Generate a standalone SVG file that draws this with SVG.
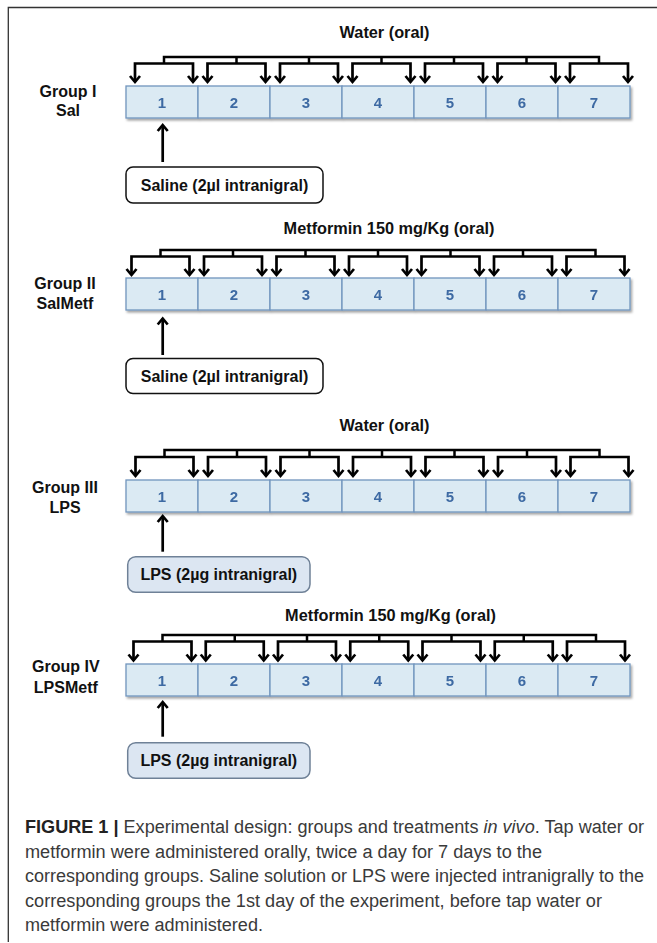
<svg xmlns="http://www.w3.org/2000/svg" width="657" height="943" viewBox="0 0 657 943">
<style>
.lbl{font-family:"Liberation Sans",Arial,sans-serif;font-weight:bold;font-size:16px;fill:#111;text-anchor:middle}
.ttl{font-family:"Liberation Sans",Arial,sans-serif;font-weight:bold;font-size:16.3px;fill:#111;text-anchor:middle}
.cell{fill:#dbeaf3;stroke:#7195bd;stroke-width:1.3}
.num{font-family:"Liberation Sans",Arial,sans-serif;font-weight:bold;font-size:15px;fill:#3e6aa3;text-anchor:middle}
.sal{fill:#fff;stroke:#111;stroke-width:1.5}
.lps{fill:#dce6f2;stroke:#6f8197;stroke-width:1.5}
.btx{font-family:"Liberation Sans",Arial,sans-serif;font-weight:bold;font-size:16px;fill:#111;text-anchor:middle}
.brk{fill:none;stroke:#000;stroke-width:2.7;marker-start:url(#ah);marker-end:url(#ah)}
.bar{fill:none;stroke:#000;stroke-width:2.5}
.up{fill:none;stroke:#000;stroke-width:2.7;marker-end:url(#ah)}
.cap{font-family:"Liberation Sans",Arial,sans-serif;font-size:18px;fill:#3a3a3a}
.frame{stroke:#333;stroke-width:1.3;fill:none}
</style>
<defs>
<marker id="ah" markerUnits="userSpaceOnUse" markerWidth="16" markerHeight="16" viewBox="-8 -8 16 16" refX="0" refY="0" orient="auto-start-reverse" overflow="visible">
<path d="M-6,-5 L0,0 L-6,5" fill="none" stroke="#000" stroke-width="2.7"/>
</marker>
<filter id="sh" x="-5%" y="-30%" width="110%" height="170%">
<feDropShadow dx="1.5" dy="2" stdDeviation="1.2" flood-color="#000" flood-opacity="0.35"/>
</filter>
</defs>

<path class="frame" d="M8.3,942 V7.5 H657"/>

<!-- Group I -->
<g id="group1-label"><text class="lbl" x="68" y="96.7">Group I</text><text class="lbl" x="68" y="116">Sal</text></g>
<g id="group1-title"><text class="ttl" x="384.5" y="38">Water (oral)</text></g>
<g id="group1-days" filter="url(#sh)">
<g id="g1d1"><rect class="cell" x="126" y="86" width="72" height="32"/><text class="num" x="162" y="107.5">1</text></g>
<g id="g1d2"><rect class="cell" x="198" y="86" width="72" height="32"/><text class="num" x="234" y="107.5">2</text></g>
<g id="g1d3"><rect class="cell" x="270" y="86" width="72" height="32"/><text class="num" x="306" y="107.5">3</text></g>
<g id="g1d4"><rect class="cell" x="342" y="86" width="72" height="32"/><text class="num" x="378" y="107.5">4</text></g>
<g id="g1d5"><rect class="cell" x="414" y="86" width="72" height="32"/><text class="num" x="450" y="107.5">5</text></g>
<g id="g1d6"><rect class="cell" x="486" y="86" width="72" height="32"/><text class="num" x="522" y="107.5">6</text></g>
<g id="g1d7"><rect class="cell" x="558" y="86" width="72" height="32"/><text class="num" x="594" y="107.5">7</text></g>
</g>
<g id="group1-injection"><rect class="sal" x="126" y="167" width="197" height="36" rx="7"/><text class="btx" x="224.5" y="190.5">Saline (2µl intranigral)</text></g>

<!-- Group II -->
<g id="group2-label"><text class="lbl" x="65" y="289.3">Group II</text><text class="lbl" x="65" y="309.3">SalMetf</text></g>
<g id="group2-title"><text class="ttl" x="389" y="234">Metformin 150 mg/Kg (oral)</text></g>
<g id="group2-days" filter="url(#sh)">
<g id="g2d1"><rect class="cell" x="126" y="278" width="72" height="32"/><text class="num" x="162" y="299.5">1</text></g>
<g id="g2d2"><rect class="cell" x="198" y="278" width="72" height="32"/><text class="num" x="234" y="299.5">2</text></g>
<g id="g2d3"><rect class="cell" x="270" y="278" width="72" height="32"/><text class="num" x="306" y="299.5">3</text></g>
<g id="g2d4"><rect class="cell" x="342" y="278" width="72" height="32"/><text class="num" x="378" y="299.5">4</text></g>
<g id="g2d5"><rect class="cell" x="414" y="278" width="72" height="32"/><text class="num" x="450" y="299.5">5</text></g>
<g id="g2d6"><rect class="cell" x="486" y="278" width="72" height="32"/><text class="num" x="522" y="299.5">6</text></g>
<g id="g2d7"><rect class="cell" x="558" y="278" width="72" height="32"/><text class="num" x="594" y="299.5">7</text></g>
</g>
<g id="group2-injection"><rect class="sal" x="126" y="358.5" width="197" height="35" rx="7"/><text class="btx" x="224.5" y="382">Saline (2µl intranigral)</text></g>

<!-- Group III -->
<g id="group3-label"><text class="lbl" x="65" y="493.3">Group III</text><text class="lbl" x="65" y="512.7">LPS</text></g>
<g id="group3-title"><text class="ttl" x="384.5" y="431">Water (oral)</text></g>
<g id="group3-days" filter="url(#sh)">
<g id="g3d1"><rect class="cell" x="126" y="480" width="72" height="32"/><text class="num" x="162" y="501.5">1</text></g>
<g id="g3d2"><rect class="cell" x="198" y="480" width="72" height="32"/><text class="num" x="234" y="501.5">2</text></g>
<g id="g3d3"><rect class="cell" x="270" y="480" width="72" height="32"/><text class="num" x="306" y="501.5">3</text></g>
<g id="g3d4"><rect class="cell" x="342" y="480" width="72" height="32"/><text class="num" x="378" y="501.5">4</text></g>
<g id="g3d5"><rect class="cell" x="414" y="480" width="72" height="32"/><text class="num" x="450" y="501.5">5</text></g>
<g id="g3d6"><rect class="cell" x="486" y="480" width="72" height="32"/><text class="num" x="522" y="501.5">6</text></g>
<g id="g3d7"><rect class="cell" x="558" y="480" width="72" height="32"/><text class="num" x="594" y="501.5">7</text></g>
</g>
<g id="group3-injection"><rect class="lps" x="127.7" y="556.7" width="182.3" height="35.6" rx="8"/><text class="btx" x="218.8" y="580.2">LPS (2µg intranigral)</text></g>

<!-- Group IV -->
<g id="group4-label"><text class="lbl" x="65.8" y="671.7">Group IV</text><text class="lbl" x="65.8" y="692.7">LPSMetf</text></g>
<g id="group4-title"><text class="ttl" x="390.5" y="621">Metformin 150 mg/Kg (oral)</text></g>
<g id="group4-days" filter="url(#sh)">
<g id="g4d1"><rect class="cell" x="126" y="664" width="72" height="32"/><text class="num" x="162" y="685.5">1</text></g>
<g id="g4d2"><rect class="cell" x="198" y="664" width="72" height="32"/><text class="num" x="234" y="685.5">2</text></g>
<g id="g4d3"><rect class="cell" x="270" y="664" width="72" height="32"/><text class="num" x="306" y="685.5">3</text></g>
<g id="g4d4"><rect class="cell" x="342" y="664" width="72" height="32"/><text class="num" x="378" y="685.5">4</text></g>
<g id="g4d5"><rect class="cell" x="414" y="664" width="72" height="32"/><text class="num" x="450" y="685.5">5</text></g>
<g id="g4d6"><rect class="cell" x="486" y="664" width="72" height="32"/><text class="num" x="522" y="685.5">6</text></g>
<g id="g4d7"><rect class="cell" x="558" y="664" width="72" height="32"/><text class="num" x="594" y="685.5">7</text></g>
</g>
<g id="group4-injection"><rect class="lps" x="127.7" y="742.7" width="182.3" height="35.6" rx="8"/><text class="btx" x="218.8" y="766.2">LPS (2µg intranigral)</text></g>

<!-- Connectors -->
<g id="connectors">
<!-- row 1 -->
<path class="bar" d="M164,63.5 V57 H599 V63.5 M236.5,57 V63.5 M309,57 V63.5 M381.5,57 V63.5 M454,57 V63.5 M526.5,57 V63.5"/>
<path class="brk" d="M135,82 V63.5 H193 V82"/>
<path class="brk" d="M207.5,82 V63.5 H265.5 V82"/>
<path class="brk" d="M280,82 V63.5 H338 V82"/>
<path class="brk" d="M352.5,82 V63.5 H410.5 V82"/>
<path class="brk" d="M425,82 V63.5 H483 V82"/>
<path class="brk" d="M497.5,82 V63.5 H555.5 V82"/>
<path class="brk" d="M570,82 V63.5 H628 V82"/>
<path class="up" d="M162.7,162 V125"/>
<!-- row 2 -->
<path class="bar" d="M160.5,256.5 V250 H595.5 V256.5 M233,250 V256.5 M305.5,250 V256.5 M378,250 V256.5 M450.5,250 V256.5 M523,250 V256.5"/>
<path class="brk" d="M131.5,275 V256.5 H189.5 V275"/>
<path class="brk" d="M204,275 V256.5 H262 V275"/>
<path class="brk" d="M276.5,275 V256.5 H334.5 V275"/>
<path class="brk" d="M349,275 V256.5 H407 V275"/>
<path class="brk" d="M421.5,275 V256.5 H479.5 V275"/>
<path class="brk" d="M494,275 V256.5 H552 V275"/>
<path class="brk" d="M566.5,275 V256.5 H624.5 V275"/>
<path class="up" d="M162.7,355 V318.5"/>
<!-- row 3 -->
<path class="bar" d="M164.5,457 V450 H599.5 V457 M237,450 V457 M309.5,450 V457 M382,450 V457 M454.5,450 V457 M527,450 V457"/>
<path class="brk" d="M135.5,476 V457 H193.5 V476"/>
<path class="brk" d="M208,476 V457 H266 V476"/>
<path class="brk" d="M280.5,476 V457 H338.5 V476"/>
<path class="brk" d="M353,476 V457 H411 V476"/>
<path class="brk" d="M425.5,476 V457 H483.5 V476"/>
<path class="brk" d="M498,476 V457 H556 V476"/>
<path class="brk" d="M570.5,476 V457 H628.5 V476"/>
<path class="up" d="M162.7,551.7 V516"/>
<!-- row 4 -->
<path class="bar" d="M162.5,641.5 V635 H596 V641.5 M234.75,635 V641.5 M307,635 V641.5 M379.25,635 V641.5 M451.5,635 V641.5 M523.75,635 V641.5"/>
<path class="brk" d="M133.5,660.5 V641.5 H191.5 V660.5"/>
<path class="brk" d="M205.75,660.5 V641.5 H263.75 V660.5"/>
<path class="brk" d="M278,660.5 V641.5 H336 V660.5"/>
<path class="brk" d="M350.25,660.5 V641.5 H408.25 V660.5"/>
<path class="brk" d="M422.5,660.5 V641.5 H480.5 V660.5"/>
<path class="brk" d="M494.75,660.5 V641.5 H552.75 V660.5"/>
<path class="brk" d="M567,660.5 V641.5 H625 V660.5"/>
<path class="up" d="M162.7,736.7 V702"/>
</g>

<!-- Caption -->
<g id="caption">
<text class="cap" x="25" y="833" textLength="619" lengthAdjust="spacingAndGlyphs"><tspan font-weight="bold" fill="#222">FIGURE 1 |</tspan> Experimental design: groups and treatments <tspan font-style="italic">in vivo</tspan>. Tap water or</text>
<text class="cap" x="25" y="857.5" textLength="517" lengthAdjust="spacingAndGlyphs">metformin were administered orally, twice a day for 7 days to the</text>
<text class="cap" x="25" y="882" textLength="619" lengthAdjust="spacingAndGlyphs">corresponding groups. Saline solution or LPS were injected intranigrally to the</text>
<text class="cap" x="25" y="906.5" textLength="577" lengthAdjust="spacingAndGlyphs">corresponding groups the 1st day of the experiment, before tap water or</text>
<text class="cap" x="25" y="931" textLength="238" lengthAdjust="spacingAndGlyphs">metformin were administered.</text>
</g>
</svg>
